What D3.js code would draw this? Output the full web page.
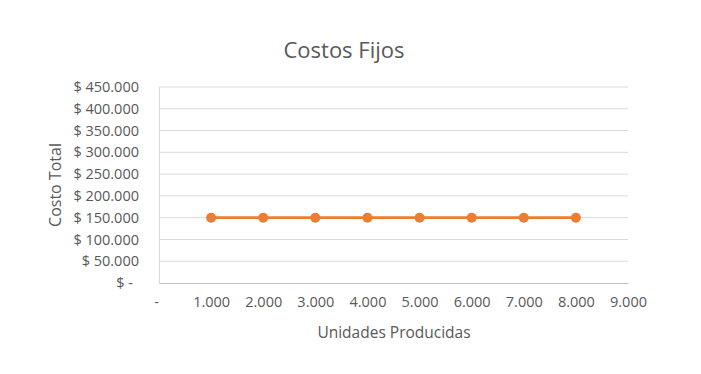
<!DOCTYPE html>
<html>
<head>
<meta charset="utf-8">
<script src="https://cdn.jsdelivr.net/npm/d3@7"></script>
<style>
  body { margin: 0; background: #fff; }
  svg { display: block; font-family: "Open Sans", "Liberation Sans", sans-serif; }
</style>
</head>
<body>
<div id="chart"></div>
<script>
const title = "Costos Fijos";
const xTitle = "Unidades Producidas";
const yTitle = "Costo Total";
const unidades = [1000, 2000, 3000, 4000, 5000, 6000, 7000, 8000];
const costos = [150000, 150000, 150000, 150000, 150000, 150000, 150000, 150000];
const xTicks = [0, 1000, 2000, 3000, 4000, 5000, 6000, 7000, 8000, 9000];
const yTicks = [0, 50000, 100000, 150000, 200000, 250000, 300000, 350000, 400000, 450000];

const width = 701, height = 374;
const margin = { top: 87, right: 73, bottom: 91, left: 159 };

const fmt = d => d === 0 ? "-" : d3.format(",")(d).replace(/,/g, ".");

const x = d3.scaleLinear().domain([0, 9000]).range([margin.left, width - margin.right]);
const y = d3.scaleLinear().domain([0, 450000]).range([height - margin.bottom, margin.top]);

const svg = d3.select("#chart").append("svg")
    .attr("width", width)
    .attr("height", height);

// gridlines
svg.append("g")
    .selectAll("line")
    .data(yTicks.filter(d => d > 0))
    .join("line")
    .attr("x1", margin.left)
    .attr("x2", width - margin.right)
    .attr("y1", d => y(d))
    .attr("y2", d => y(d))
    .attr("stroke", "#d9d9d9")
    .attr("stroke-width", 1);

// y axis
const yAxis = svg.append("g")
    .attr("transform", `translate(${margin.left},0)`)
    .call(d3.axisLeft(y).tickValues(yTicks).tickSize(0).tickPadding(20)
        .tickFormat(d => "$ " + fmt(d)));
yAxis.select(".domain").attr("stroke", "#d9d9d9");
yAxis.selectAll("text")
    .attr("font-size", 14.5)
    .attr("fill", "#595959")
    .attr("font-family", "Open Sans, Liberation Sans, sans-serif")
    .attr("dx", d => d === 0 ? -6 : 0);

// x axis
const xAxis = svg.append("g")
    .attr("transform", `translate(0,${height - margin.bottom})`)
    .call(d3.axisBottom(x).tickValues(xTicks).tickSize(0).tickPadding(14)
        .tickFormat(fmt));
xAxis.select(".domain").attr("stroke", "#bfbfbf");
xAxis.selectAll("text")
    .attr("font-size", 14.5)
    .attr("fill", "#595959")
    .attr("font-family", "Open Sans, Liberation Sans, sans-serif")
    .attr("dx", d => d === 0 ? -3 : 0);

// line
const pts = unidades.map((u, i) => [u, costos[i]]);
svg.append("path")
    .datum(pts)
    .attr("fill", "none")
    .attr("stroke", "#ed7d31")
    .attr("stroke-width", 2.75)
    .attr("d", d3.line().x(d => x(d[0])).y(d => y(d[1])));

svg.append("g")
    .selectAll("circle")
    .data(pts)
    .join("circle")
    .attr("cx", d => x(d[0]))
    .attr("cy", d => y(d[1]))
    .attr("r", 5)
    .attr("fill", "#ed7d31");

// titles
svg.append("text")
    .attr("x", 344)
    .attr("y", 58)
    .attr("text-anchor", "middle")
    .attr("font-size", 22)
    .attr("fill", "#595959")
    .text(title);

svg.append("text")
    .attr("x", 394)
    .attr("y", 338)
    .attr("text-anchor", "middle")
    .attr("font-size", 15.5)
    .attr("fill", "#595959")
    .text(xTitle);

svg.append("text")
    .attr("transform", `translate(61,${(margin.top + height - margin.bottom) / 2}) rotate(-90)`)
    .attr("text-anchor", "middle")
    .attr("font-size", 16)
    .attr("fill", "#595959")
    .text(yTitle);
</script>
</body>
</html>
